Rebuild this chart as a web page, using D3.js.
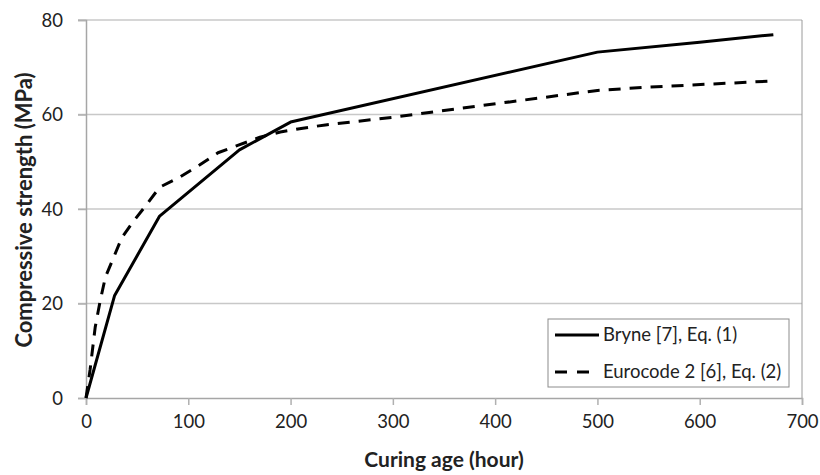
<!DOCTYPE html>
<html>
<head>
<meta charset="utf-8">
<script src="https://cdn.jsdelivr.net/npm/d3@7"></script>
<style>
  body { margin: 0; background: #fff; }
  svg { font-family: Lato, "Open Sans", sans-serif; }
</style>
</head>
<body>
<svg></svg>
<script>
const width = 820;
const height = 475;
const margin = { top: 20, right: 18, bottom: 77, left: 86 };

// Bryne [7], Eq. (1): [hour, MPa]
const bryneHours = [0, 28, 72, 150, 200, 500, 600, 672];
const bryneValues = [0, 21.7, 38.5, 52.5, 58.4, 73.2, 75.3, 76.9];

// Eurocode 2 [6], Eq. (2)
const euroHours = [0, 4, 9, 14, 19, 35, 45, 58, 72, 92, 111, 129, 149, 170, 190, 212, 234, 300, 405, 500, 551, 672];
const euroValues = [0, 6, 15, 20.7, 25.6, 33.9, 37, 40.6, 44.6, 46.8, 49.3, 51.9, 53.5, 55.2, 56.3, 57.1, 57.8, 59.4, 62.4, 65.1, 65.8, 67.1];

const xTicks = [0, 100, 200, 300, 400, 500, 600, 700];
const yTicks = [0, 20, 40, 60, 80];

const series = [
    { name: 'Bryne [7], Eq. (1)', hours: bryneHours, values: bryneValues, dash: null },
    { name: 'Eurocode 2 [6], Eq. (2)', hours: euroHours, values: euroValues, dash: '12,9' }
];

const svg = d3.select('svg')
    .attr('width', width)
    .attr('height', height);

const xScale = d3.scaleLinear()
    .domain([0, 700])
    .range([margin.left, width - margin.right]);

const yScale = d3.scaleLinear()
    .domain([0, 80])
    .range([height - margin.bottom, margin.top]);

// gridlines
svg.append('g')
    .selectAll('line')
    .data(yTicks.filter(d => d > 0))
    .enter()
    .append('line')
    .attr('x1', xScale(0) - 8)
    .attr('x2', xScale(700))
    .attr('y1', d => yScale(d))
    .attr('y2', d => yScale(d))
    .attr('stroke', '#c8c8c8')
    .attr('stroke-width', 1.5);

// right border of plot area
svg.append('line')
    .attr('x1', xScale(700))
    .attr('x2', xScale(700))
    .attr('y1', yScale(80))
    .attr('y2', yScale(0))
    .attr('stroke', '#9a9a9a')
    .attr('stroke-width', 1);

const xAxis = d3.axisBottom(xScale).tickValues(xTicks).tickSize(7).tickPadding(10);
const yAxis = d3.axisLeft(yScale).tickValues(yTicks).tickSize(8).tickPadding(15);

const gx = svg.append('g')
    .attr('transform', `translate(0, ${yScale(0)})`)
    .call(xAxis);

const gy = svg.append('g')
    .attr('transform', `translate(${xScale(0)}, 0)`)
    .call(yAxis);

[gx, gy].forEach(g => {
    g.select('.domain').attr('stroke', '#a6a6a6').attr('stroke-width', 1.5);
    g.selectAll('.tick line').attr('stroke', '#b0b0b0').attr('stroke-width', 1.5);
    g.selectAll('.tick text')
        .attr('fill', '#222')
        .style('font-size', '18.5px')
        .style('font-family', 'Lato, sans-serif');
});
gy.selectAll('.tick text').attr('dy', '0.35em');

// lines
const line = d3.line()
    .x(d => xScale(d[0]))
    .y(d => yScale(d[1]));

series.forEach(s => {
    svg.append('path')
        .datum(s.hours.map((h, i) => [h, s.values[i]]))
        .attr('d', line)
        .attr('fill', 'none')
        .attr('stroke', '#000')
        .attr('stroke-width', 3)
        .attr('stroke-linejoin', 'round')
        .attr('stroke-dasharray', s.dash);
});

// axis titles
svg.append('text')
    .attr('x', (xScale(0) + xScale(700)) / 2)
    .attr('y', 467)
    .attr('text-anchor', 'middle')
    .style('font-size', '21px')
    .style('font-weight', 'bold')
    .attr('fill', '#222')
    .text('Curing age (hour)');

svg.append('text')
    .attr('transform', 'translate(32, 210) rotate(-90)')
    .attr('text-anchor', 'middle')
    .style('font-size', '22px')
    .style('font-weight', 'bold')
    .attr('fill', '#222')
    .text('Compressive strength (MPa)');

// legend
const legend = svg.append('g').attr('id', 'legend');
legend.append('rect')
    .attr('x', 548)
    .attr('y', 319)
    .attr('width', 241)
    .attr('height', 68)
    .attr('fill', '#fff')
    .attr('stroke', '#8c8c8c')
    .attr('stroke-width', 1);

series.forEach((s, i) => {
    const y = 335 + i * 37;
    legend.append('line')
        .attr('x1', 555)
        .attr('x2', 599)
        .attr('y1', y)
        .attr('y2', y)
        .attr('stroke', '#000')
        .attr('stroke-width', 3)
        .attr('stroke-dasharray', s.dash ? '12,10' : null);
    legend.append('text')
        .attr('x', 603)
        .attr('y', y)
        .attr('dy', '0.35em')
        .style('font-size', '18.5px')
        .attr('fill', '#222')
        .text(s.name);
});
</script>
</body>
</html>
